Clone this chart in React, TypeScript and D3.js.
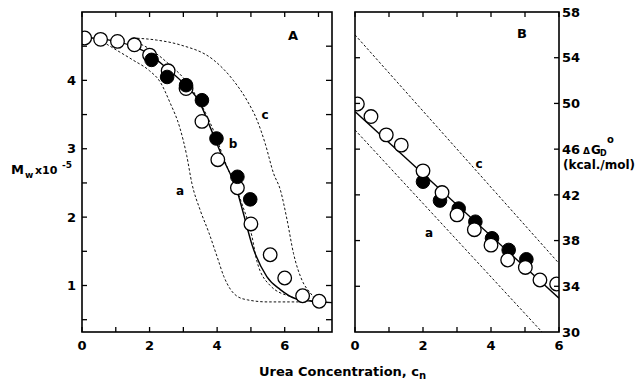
import React from "react";
import * as d3 from "d3";

// ---------- Panel A data (Mw x 10^-5 vs urea concentration) ----------
const aOpenX = [0.08, 0.55, 1.05, 1.55, 2.0, 2.55, 3.08, 3.55, 4.02, 4.6, 5.0, 5.57, 6.0, 6.53, 7.02];
const aOpenY = [4.62, 4.6, 4.57, 4.52, 4.37, 4.14, 3.88, 3.4, 2.84, 2.43, 1.9, 1.45, 1.11, 0.85, 0.77];
const aFilledX = [2.06, 2.52, 3.08, 3.55, 3.98, 4.6, 4.98];
const aFilledY = [4.3, 4.05, 3.93, 3.71, 3.15, 2.59, 2.26];

const aSolidX = [0, 0.5, 1.0, 1.5, 2.0, 2.5, 3.0, 3.5, 3.79, 4.19, 4.58, 4.78, 5.03, 5.47, 5.87, 6.31, 6.8, 7.4];
const aSolidY = [4.63, 4.61, 4.57, 4.5, 4.38, 4.18, 3.96, 3.66, 3.32, 2.84, 2.4, 2.05, 1.6, 1.13, 0.94, 0.81, 0.77, 0.75];
const aDashBX = [1.5, 2.0, 2.5, 3.2, 3.89, 4.29, 4.5, 4.73, 5.03, 5.18, 5.57, 6.16, 6.6, 7.0];
const aDashBY = [4.58, 4.46, 4.27, 3.91, 3.27, 2.74, 2.5, 2.2, 1.72, 1.35, 1.0, 0.84, 0.79, 0.77];
const aDashAX = [0.5, 0.93, 1.5, 2.0, 2.31, 2.6, 2.9, 3.1, 3.25, 3.5, 3.75, 4.0, 4.2, 4.4, 4.6, 4.9, 5.5, 6.5];
const aDashAY = [4.6, 4.47, 4.3, 4.14, 3.98, 3.68, 3.3, 2.9, 2.5, 2.1, 1.78, 1.42, 1.13, 0.94, 0.84, 0.79, 0.76, 0.76];
const aDashCX = [1.5, 2.2, 2.9, 3.89, 4.48, 4.88, 5.18, 5.42, 5.67, 5.87, 6.07, 6.26, 6.51, 6.76, 6.95, 7.1];
const aDashCY = [4.62, 4.59, 4.52, 4.3, 4.0, 3.71, 3.42, 3.08, 2.64, 2.4, 1.96, 1.47, 1.08, 0.89, 0.79, 0.77];

const aXTicks = [0, 1, 2, 3, 4, 5, 6, 7];
const aXLabels = [0, 2, 4, 6];
const aYTicks = [0.5, 1, 1.5, 2, 2.5, 3, 3.5, 4, 4.5];
const aYLabels = [1, 2, 3, 4];

// ---------- Panel B data (ΔG_D° vs urea concentration) ----------
const bOpenX = [0.07, 0.47, 0.92, 1.36, 2.0, 2.56, 3.0, 3.51, 4.0, 4.49, 5.01, 5.44, 5.93];
const bOpenY = [49.95, 48.85, 47.25, 46.35, 44.1, 42.2, 40.25, 38.95, 37.6, 36.3, 35.65, 34.55, 34.2];
const bFilledX = [2.0, 2.5, 3.05, 3.54, 4.03, 4.52, 5.04];
const bFilledY = [43.15, 41.5, 40.8, 39.65, 38.2, 37.18, 36.36];

const bSolidX = [0, 6];
const bSolidY = [49.3, 32.95];
const bDashCX = [0, 6];
const bDashCY = [56.0, 36.0];
const bDashAX = [0, 5.5];
const bDashAY = [47.68, 30.0];

const bXTicks = [0, 1, 2, 3, 4, 5, 6];
const bXLabels = [0, 2, 4, 6];
const bYTicks = [34, 38, 42, 46, 50, 54];
const bYLabels = [30, 34, 38, 42, 46, 50, 54, 58];

const FONT = "'DejaVu Sans', Verdana, sans-serif";

const zip = (xs: number[], ys: number[]) => xs.map((x, i) => [x, ys[i]] as [number, number]);

export default function App() {
  const top = 12;
  const bottom = 332;

  const xA = d3.scaleLinear().domain([0, 7.4]).range([82, 332]);
  const yA = d3.scaleLinear().domain([0.32, 5.0]).range([bottom, top]);
  const xB = d3.scaleLinear().domain([0, 6]).range([355, 559]);
  const yB = d3.scaleLinear().domain([30, 58]).range([bottom, top]);

  const lineA = d3
    .line<[number, number]>()
    .x((d) => xA(d[0]))
    .y((d) => yA(d[1]))
    .curve(d3.curveMonotoneX);
  const lineB = d3
    .line<[number, number]>()
    .x((d) => xB(d[0]))
    .y((d) => yB(d[1]));

  const r = 6.8;
  const tk = 5;
  const txt = { fontFamily: FONT, fontWeight: "bold" as const };

  return (
    <svg width={641} height={380} style={{ position: "absolute", left: 0, top: 0, background: "#fff" }}>
      <defs>
        <clipPath id="clipA">
          <rect x={82} y={top} width={250} height={bottom - top} />
        </clipPath>
        <clipPath id="clipB">
          <rect x={355} y={top} width={204} height={bottom - top} />
        </clipPath>
      </defs>
      <rect x={0} y={0} width={641} height={380} fill="#fff" />

      {/* ---------- Panel A ---------- */}
      <g clipPath="url(#clipA)">
        <path d={lineA(zip(aDashAX, aDashAY)) || ""} fill="none" stroke="#111" strokeWidth={1} strokeDasharray="2.5,2" />
        <path d={lineA(zip(aDashCX, aDashCY)) || ""} fill="none" stroke="#111" strokeWidth={1} strokeDasharray="2.5,2" />
        <path d={lineA(zip(aDashBX, aDashBY)) || ""} fill="none" stroke="#111" strokeWidth={1} strokeDasharray="2.5,2" />
        <path d={lineA(zip(aSolidX, aSolidY)) || ""} fill="none" stroke="#000" strokeWidth={1.4} />
        {aOpenX.map((x, i) => (
          <circle key={"ao" + i} cx={xA(x)} cy={yA(aOpenY[i])} r={r} fill="#fff" stroke="#000" strokeWidth={1.3} />
        ))}
        {aFilledX.map((x, i) => (
          <circle key={"af" + i} cx={xA(x)} cy={yA(aFilledY[i])} r={r} fill="#000" stroke="#000" strokeWidth={1} />
        ))}
      </g>
      <rect x={82} y={top} width={250} height={bottom - top} fill="none" stroke="#000" strokeWidth={1.6} />
      {aXTicks.map((t) => (
        <g key={"axt" + t}>
          <line x1={xA(t)} x2={xA(t)} y1={bottom} y2={bottom - tk} stroke="#000" strokeWidth={1.3} />
          <line x1={xA(t)} x2={xA(t)} y1={top} y2={top + tk} stroke="#000" strokeWidth={1.3} />
        </g>
      ))}
      {aYTicks.map((t) => (
        <g key={"ayt" + t}>
          <line x1={82} x2={82 + tk} y1={yA(t)} y2={yA(t)} stroke="#000" strokeWidth={1.3} />
          <line x1={332} x2={332 - tk - 1} y1={yA(t)} y2={yA(t)} stroke="#000" strokeWidth={1.3} />
        </g>
      ))}
      {aXLabels.map((t) => (
        <text key={"axl" + t} x={xA(t)} y={350} textAnchor="middle" {...txt} fontSize={13}>
          {t}
        </text>
      ))}
      {aYLabels.map((t) => (
        <text key={"ayl" + t} x={76} y={yA(t)} dy="0.36em" textAnchor="end" {...txt} fontSize={13}>
          {t}
        </text>
      ))}
      <text x={293} y={40} textAnchor="middle" {...txt} fontSize={13}>A</text>
      <text x={180} y={195} textAnchor="middle" {...txt} fontSize={12}>a</text>
      <text x={233} y={148} textAnchor="middle" {...txt} fontSize={12}>b</text>
      <text x={265} y={119} textAnchor="middle" {...txt} fontSize={12}>c</text>

      {/* ---------- Panel B ---------- */}
      <g clipPath="url(#clipB)">
        <path d={lineB(zip(bDashCX, bDashCY)) || ""} fill="none" stroke="#111" strokeWidth={1} strokeDasharray="2.5,2" />
        <path d={lineB(zip(bDashAX, bDashAY)) || ""} fill="none" stroke="#111" strokeWidth={1} strokeDasharray="2.5,2" />
        <path d={lineB(zip(bSolidX, bSolidY)) || ""} fill="none" stroke="#000" strokeWidth={1.4} />
        {bFilledX.map((x, i) => (
          <circle key={"bf" + i} cx={xB(x)} cy={yB(bFilledY[i])} r={r} fill="#000" stroke="#000" strokeWidth={1} />
        ))}
        {bOpenX.map((x, i) => (
          <circle key={"bo" + i} cx={xB(x)} cy={yB(bOpenY[i])} r={r} fill="#fff" stroke="#000" strokeWidth={1.3} />
        ))}
      </g>
      <rect x={355} y={top} width={204} height={bottom - top} fill="none" stroke="#000" strokeWidth={1.6} />
      {bXTicks.map((t) => (
        <g key={"bxt" + t}>
          <line x1={xB(t)} x2={xB(t)} y1={bottom} y2={bottom - tk} stroke="#000" strokeWidth={1.3} />
          <line x1={xB(t)} x2={xB(t)} y1={top} y2={top + tk} stroke="#000" strokeWidth={1.3} />
        </g>
      ))}
      {bYTicks.map((t) => (
        <g key={"byt" + t}>
          <line x1={355} x2={355 + tk} y1={yB(t)} y2={yB(t)} stroke="#000" strokeWidth={1.3} />
          <line x1={559} x2={559 - tk} y1={yB(t)} y2={yB(t)} stroke="#000" strokeWidth={1.3} />
        </g>
      ))}
      {bXLabels.map((t) => (
        <text key={"bxl" + t} x={xB(t)} y={350} textAnchor="middle" {...txt} fontSize={13}>
          {t}
        </text>
      ))}
      {bYLabels.map((t) => (
        <text key={"byl" + t} x={562} y={yB(t)} dy="0.36em" textAnchor="start" {...txt} fontSize={13}>
          {t}
        </text>
      ))}
      <text x={522} y={38} textAnchor="middle" {...txt} fontSize={13}>B</text>
      <text x={479} y={168} textAnchor="middle" {...txt} fontSize={12}>c</text>
      <text x={429} y={237} textAnchor="middle" {...txt} fontSize={12}>a</text>

      {/* ---------- Axis titles ---------- */}
      <text x={11} y={174} {...txt} fontSize={13}>M</text>
      <text x={25} y={178} {...txt} fontSize={9}>w</text>
      <text x={35} y={174} {...txt} fontSize={11}>x10</text>
      <text x={62} y={168} {...txt} fontSize={9}>-5</text>

      <text x={583} y={154} {...txt} fontSize={9}>Δ</text>
      <text x={591} y={154} {...txt} fontSize={12}>G</text>
      <text x={600} y={156} {...txt} fontSize={8}>D</text>
      <text x={607} y={143} {...txt} fontSize={10}>o</text>
      <text x={563} y={169} {...txt} fontSize={12}>(kcal./mol)</text>

      <text x={259} y={376} {...txt} fontSize={13}>
        Urea  Concentration, c
        <tspan fontSize={10} dy={3}>n</tspan>
      </text>
    </svg>
  );
}
